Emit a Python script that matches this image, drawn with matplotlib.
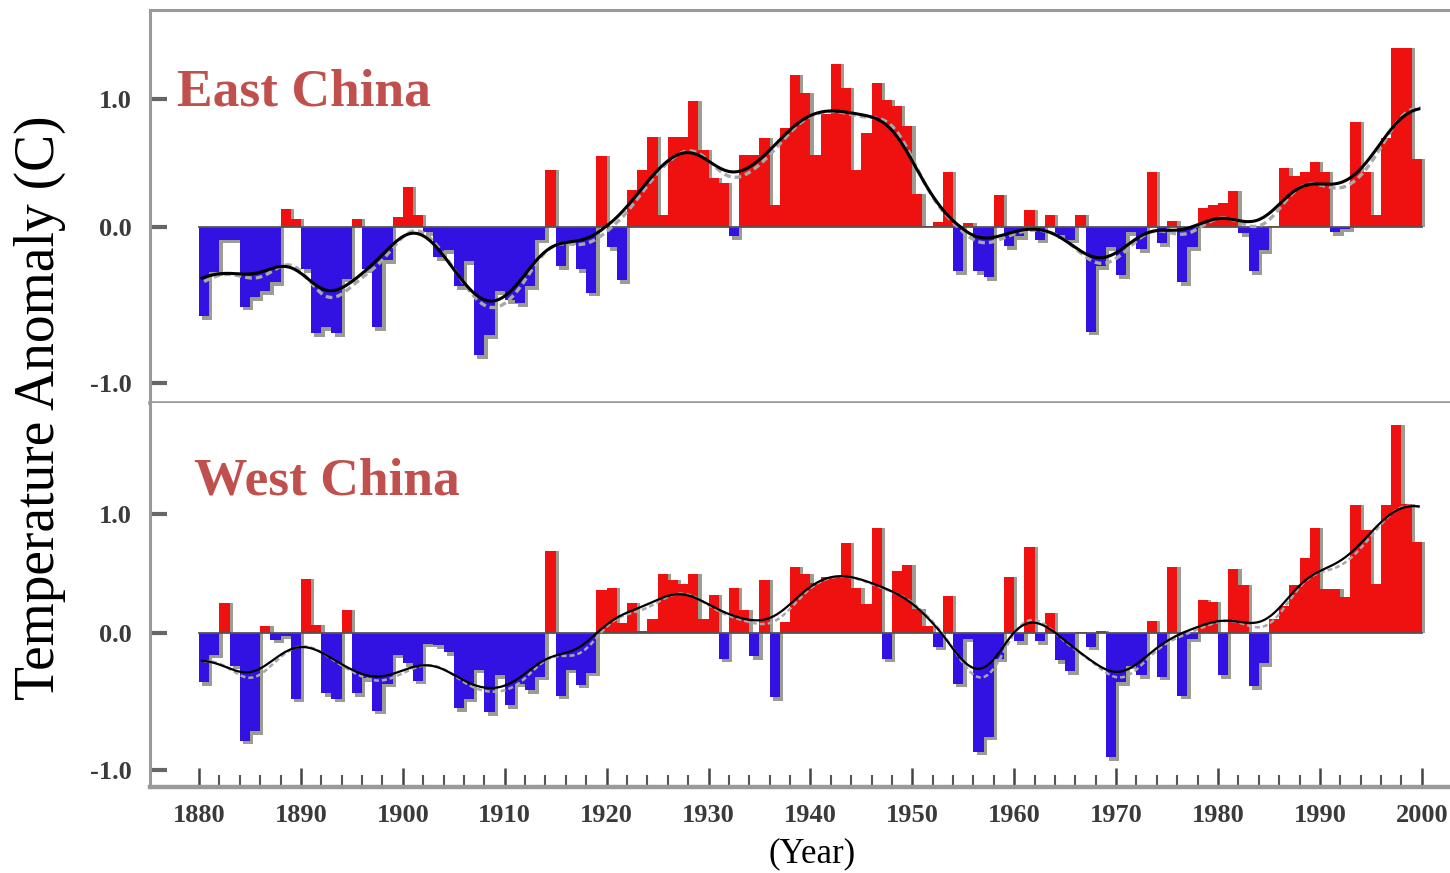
import numpy as np
import matplotlib
matplotlib.use("Agg")
import matplotlib.pyplot as plt

# ---------------- data ----------------
years = np.arange(1880, 2000)

east_china = [
    -0.57, -0.29, -0.08, -0.08, -0.51, -0.45, -0.41, -0.35, 0.14, 0.06,   # 1880s
    -0.27, -0.68, -0.64, -0.68, -0.33, 0.06, -0.27, -0.64, -0.21, 0.08,   # 1890s
    0.31, 0.09, -0.03, -0.19, -0.15, -0.38, -0.22, -0.82, -0.69, -0.41,   # 1900s
    -0.47, -0.49, -0.38, -0.08, 0.44, -0.25, -0.09, -0.27, -0.42, 0.55,   # 1910s
    -0.13, -0.34, 0.29, 0.44, 0.70, 0.09, 0.70, 0.70, 0.98, 0.60,         # 1920s
    0.38, 0.34, -0.06, 0.56, 0.56, 0.69, 0.17, 0.77, 1.18, 1.04,          # 1930s
    0.56, 0.88, 1.27, 1.08, 0.44, 0.73, 1.12, 0.99, 0.94, 0.79,           # 1940s
    0.26, 0.01, 0.04, 0.43, -0.28, 0.03, -0.28, -0.32, 0.25, -0.12,       # 1950s
    -0.06, 0.13, -0.08, 0.09, -0.05, -0.08, 0.09, -0.67, -0.25, -0.13,    # 1960s
    -0.31, -0.03, -0.14, 0.43, -0.10, 0.05, -0.35, -0.13, 0.15, 0.17,     # 1970s
    0.19, 0.28, -0.04, -0.28, -0.15, 0.01, 0.46, 0.40, 0.43, 0.51,        # 1980s
    0.43, -0.03, -0.01, 0.82, 0.43, 0.09, 0.69, 1.39, 1.39, 0.53,         # 1990s
]

west_china = [
    -0.36, -0.16, 0.25, -0.24, -0.79, -0.72, 0.06, -0.05, -0.02, -0.48,   # 1880s
    0.45, 0.07, -0.44, -0.48, 0.19, -0.44, -0.33, -0.57, -0.37, -0.16,    # 1890s
    -0.22, -0.35, -0.08, -0.09, -0.14, -0.55, -0.48, -0.27, -0.58, -0.31, # 1900s
    -0.53, -0.37, -0.42, -0.32, 0.69, -0.46, -0.27, -0.38, -0.29, 0.36,   # 1910s
    0.38, 0.08, 0.25, 0.02, 0.12, 0.49, 0.44, 0.41, 0.49, 0.12,           # 1920s
    0.32, -0.19, 0.38, 0.19, -0.17, 0.44, -0.47, 0.09, 0.55, 0.49,        # 1930s
    0.42, 0.47, 0.47, 0.75, 0.38, 0.24, 0.88, -0.19, 0.52, 0.57,          # 1940s
    0.20, 0.06, -0.10, 0.31, -0.37, -0.04, -0.87, -0.76, -0.19, 0.47,     # 1950s
    -0.06, 0.72, -0.06, 0.17, -0.20, -0.28, 0.01, -0.10, 0.02, -0.91,     # 1960s
    -0.36, -0.24, -0.31, 0.10, -0.32, 0.55, -0.46, -0.04, 0.28, 0.26,     # 1970s
    -0.31, 0.54, 0.40, -0.39, -0.22, 0.12, 0.23, 0.40, 0.63, 0.88,        # 1980s
    0.37, 0.37, 0.30, 1.07, 0.86, 0.41, 1.07, 1.74, 1.08, 0.76,           # 1990s
]

panel_titles = ["East China", "West China"]
y_ticks = [-1.0, 0.0, 1.0]
y_tick_labels = ["-1.0", "0.0", "1.0"]
x_major_ticks = list(range(1880, 2001, 10))
y_label = "Temperature Anomaly (C)"
x_label = "(Year)"

# ---------------- style ----------------
RED = "#EF1010"
BLUE = "#3212E2"
SHADOW = "#9c9c92"
SPINE = "#9a9a9a"
TITLE_C = "#C0504D"
SERIF = "Liberation Serif"

W, H = 1450, 873
fig = plt.figure(figsize=(W / 100, H / 100), dpi=100)
ax1 = fig.add_axes([150 / W, (H - 403) / H, 1300 / W, 393 / H])
ax2 = fig.add_axes([150 / W, (H - 787) / H, 1300 / W, 384 / H])


def piecewise_scale(kneg):
    def fwd(v):
        v = np.asarray(v, dtype=float)
        return np.where(v >= 0, v, v * kneg)

    def inv(u):
        u = np.asarray(u, dtype=float)
        return np.where(u >= 0, u, u / kneg)

    return fwd, inv


def smooth(xc, v, grid, sigma):
    w = np.exp(-0.5 * ((grid[:, None] - xc[None, :]) / sigma) ** 2)
    return (w @ v) / w.sum(axis=1)


x_left = 1880 - 49 / 10.19
x_right = 1880 + (1450 - 199) / 10.19

setup = [
    (ax1, east_china, 1.214, (-1.128, 1.689), 2.2, 2.4),
    (ax2, west_china, 1.143, (-1.127, 1.925), 1.6, 1.8),
]

for (ax, vals, kneg, ylim, lw_black, lw_gray), title, tx, ty in zip(
        setup, panel_titles, [0.0208, 0.0338], [0.758, 0.763]):
    v = np.asarray(vals, dtype=float)
    ax.set_yscale("function", functions=piecewise_scale(kneg))
    shadow_h = np.where(v >= 0, v, v - 0.025)
    ax.bar(years + 0.32, shadow_h, width=1.0, align="edge", color=SHADOW,
           linewidth=0, zorder=1)
    ax.bar(years, v, width=1.0, align="edge",
           color=np.where(v >= 0, RED, BLUE), linewidth=0, zorder=2)
    ax.plot([1880, 2000], [0, 0], color="#555555", lw=1.3, zorder=3)

    centers = years + 0.5
    grid = np.linspace(1880.3, 1999.7, 700)
    ax.plot(grid + 0.2, smooth(centers, v, grid, 2.1) - 0.015, color="#a8a8a8",
            lw=lw_gray, ls=(0, (2.0, 1.2)), zorder=4)
    ax.plot(grid, smooth(centers, v, grid, 2.4), color="black",
            lw=lw_black, zorder=5)

    ax.set_xlim(x_left, x_right)
    ax.set_ylim(*ylim)
    ax.set_yticks(y_ticks)
    ax.set_yticklabels(y_tick_labels, fontfamily=SERIF, fontweight="bold",
                       fontsize=19, color="#3a3a3a")
    ax.minorticks_off()
    ax.tick_params(axis="y", direction="in", length=12, width=3,
                   color="#666666", pad=13)
    for s in ("left", "top", "bottom"):
        ax.spines[s].set_color(SPINE)
        ax.spines[s].set_linewidth(2.2)
    ax.spines["right"].set_visible(False)

    ax.text(tx, ty, title, transform=ax.transAxes, ha="left", va="baseline",
            fontfamily=SERIF, fontweight="bold", fontsize=38.5, color=TITLE_C,
            zorder=6)

ax2.spines["top"].set_visible(False)
ax2.spines["bottom"].set_linewidth(3.2)
ax1.spines["bottom"].set_linewidth(2.6)
ax1.tick_params(axis="x", bottom=False, labelbottom=False)

ax2.set_xticks(x_major_ticks)
ax2.set_xticklabels([str(t) for t in x_major_ticks], fontfamily=SERIF,
                    fontweight="bold", fontsize=19, color="#3a3a3a")
ax2.set_xticks([t for t in range(1882, 2000, 2) if t % 10 != 0], minor=True)
ax2.tick_params(axis="x", which="major", direction="in", length=14, width=1.8,
                color="#444444", pad=12)
ax2.tick_params(axis="x", which="minor", direction="in", length=9, width=1.5,
                color="#555555")
ax2.tick_params(axis="y", which="minor", left=False)

fig.text(40 / W, (H - 408) / H, y_label, rotation=90, ha="center", va="center",
         fontfamily=SERIF, fontsize=40, color="black")
fig.text(812 / W, (H - 854) / H, x_label, ha="center", va="center",
         fontfamily=SERIF, fontsize=25, color="black")

fig.savefig("out.png", dpi=100, facecolor="white")
